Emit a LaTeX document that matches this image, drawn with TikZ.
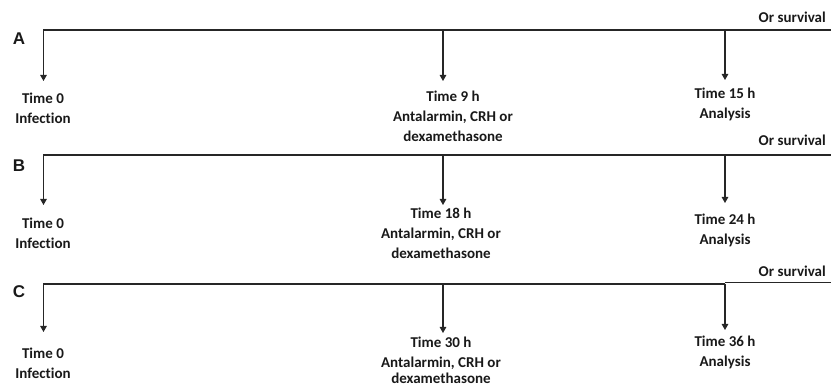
\documentclass[tikz,border=0pt]{standalone}
\usepackage{fontspec}
\setmainfont{Carlito}[Ligatures=NoCommon]
\newfontfamily\panelfont{Liberation Sans}
\usetikzlibrary{arrows.meta}
\begin{document}
\begin{tikzpicture}[x=1pt,y=-1pt,
  tl/.style={draw=black!85,line width=1.1pt},
  ar/.style={tl,-{Triangle[length=6pt,width=6.5pt]}},
  lbl/.style={anchor=base,align=center,inner sep=0pt,text=black!90,
    font=\bfseries\fontsize{15}{20}\selectfont},
  surv/.style={anchor=base east,inner sep=0pt,text=black!90,
    font=\bfseries\fontsize{15}{20}\selectfont},
  pnl/.style={inner sep=0pt,text=black!90,
    font=\panelfont\bfseries\fontsize{17}{17}\selectfont}]
\useasboundingbox (0,0) rectangle (831,387);
\coordinate(A0) at (43.5,30) ;
\coordinate(A1) at (443,30) ;
\coordinate(A2) at (725,30) ;
\coordinate(AE) at (831,30) ;
\coordinate(A0t) at (43.5,81) ;
\coordinate(A1t) at (443,81) ;
\coordinate(A2t) at (725,80) ;
\coordinate(B0) at (43.5,155) ;
\coordinate(B1) at (443,155) ;
\coordinate(B2) at (725,155) ;
\coordinate(BE) at (831,155) ;
\coordinate(B0t) at (43.5,205) ;
\coordinate(B1t) at (443,205) ;
\coordinate(B2t) at (725,203) ;
\coordinate(C0) at (43.5,284) ;
\coordinate(C1) at (443,284) ;
\coordinate(C2) at (725,284) ;
\coordinate(C2u) at (725,282.5) ;
\coordinate(CE) at (831,282.5) ;
\coordinate(C0t) at (43.5,332) ;
\coordinate(C1t) at (443,333) ;
\coordinate(C2t) at (725,330) ;
\node[pnl](pA) at (19,38.5) {A};
\node[pnl](pB) at (19,165.5) {B};
\node[pnl](pC) at (19,291.5) {C};
\node[surv](sA) at (826,23) {Or survival};
\node[surv](sB) at (826,146) {Or survival};
\node[surv](sC) at (826,276.5) {Or survival};
\node[lbl](A0txt) at (43,124) {Time 0\\Infection};
\node[lbl](A1txt) at (453,142) {Time 9 h\\Antalarmin, CRH or\\dexamethasone};
\node[lbl](A2txt) at (725,119) {Time 15 h\\Analysis};
\node[lbl](B0txt) at (43,249) {Time 0\\Infection};
\node[lbl](B1txt) at (441,259) {Time 18 h\\Antalarmin, CRH or\\dexamethasone};
\node[lbl](B2txt) at (725,245) {Time 24 h\\Analysis};
\node[lbl](C0txt) at (43,379) {Time 0\\Infection};
\node[lbl](C1txt) at (441,384) {Time 30 h\\Antalarmin, CRH or\\[-4pt]dexamethasone};
\node[lbl](C2txt) at (725,367) {Time 36 h\\Analysis};
\draw[ar](AE)--(A0)--(A0t);
\draw[ar](A1)--(A1t);
\draw[ar](A2)--(A2t);
\draw[ar](BE)--(B0)--(B0t);
\draw[ar](B1)--(B1t);
\draw[ar](B2)--(B2t);
\draw[ar](C2)--(C0)--(C0t);
\draw[tl](C2u)--(CE);
\draw[ar](C1)--(C1t);
\draw[ar](C2)--(C2t);
\end{tikzpicture}
\end{document}
